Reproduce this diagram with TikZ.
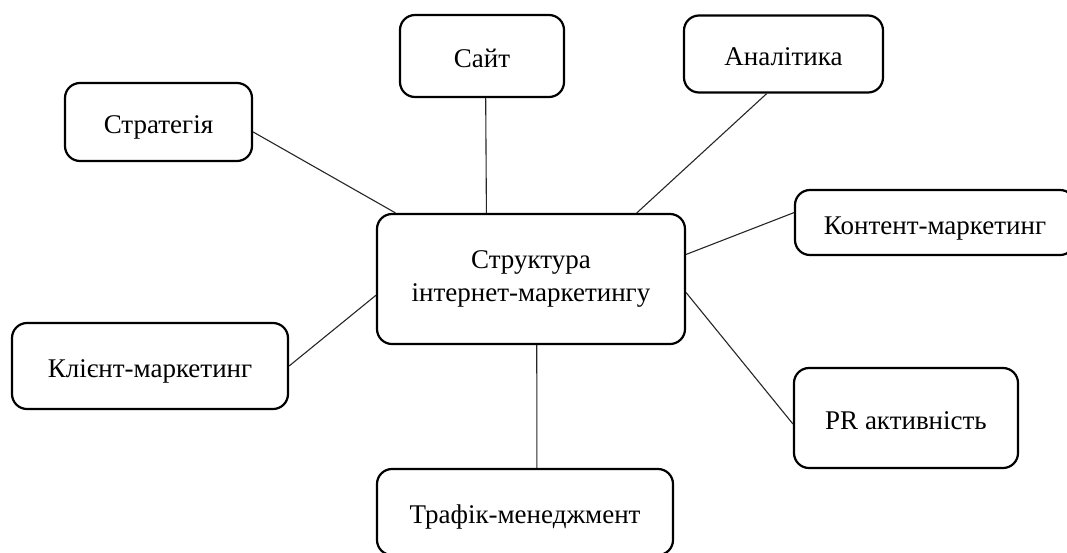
\documentclass[tikz,border=0pt]{standalone}
\usepackage{fontspec}
\setmainfont{Liberation Serif}
\begin{document}
\begin{tikzpicture}[x=1pt,y=-1pt,
  box/.style={draw=black, line width=2.2pt, rounded corners=15pt, fill=white,
    inner sep=0pt, align=center, font=\fontsize{27}{33}\selectfont},
  oneline/.style={text height=27pt, text depth=4pt},
  link/.style={draw=black!85, line width=1.1pt}]
\useasboundingbox (0,0) rectangle (1067,552);
\node[box, minimum width=308pt, minimum height=130pt] (center) at (531,279) {Структура\\інтернет-маркетингу};
\node[box, oneline, minimum width=187pt, minimum height=78pt] (strat) at (158.5,122) {Стратегія};
\node[box, oneline, minimum width=164pt, minimum height=82pt] (site) at (482,56) {Сайт};
\node[box, oneline, minimum width=199pt, minimum height=77pt] (anal) at (783.5,54) {Аналітика};
\node[box, oneline, minimum width=280pt, minimum height=65pt] (cont) at (935,222.5) {Контент-маркетинг};
\node[box, oneline, minimum width=276pt, minimum height=86pt] (client) at (150,366) {Клієнт-маркетинг};
\node[box, oneline, minimum width=224pt, minimum height=100pt] (pr) at (906,418) {PR активність};
\node[box, oneline, minimum width=296pt, minimum height=86pt] (traf) at (525,512) {Трафік-менеджмент};
\draw[link] (strat.-6) -- (center.154.1);
\draw[link] (site.-85.8) -- (center.124.7);
\draw[link] (anal.-113.2) -- (center.32);
\draw[link] (cont.176.1) -- (center.9.6);
\draw[link] (client.east) -- (center.186.3);
\draw[link] (pr.183.6) -- (center.-5.6);
\draw[link] (traf.75.7) -- (center.-85.6);
\end{tikzpicture}
\end{document}
